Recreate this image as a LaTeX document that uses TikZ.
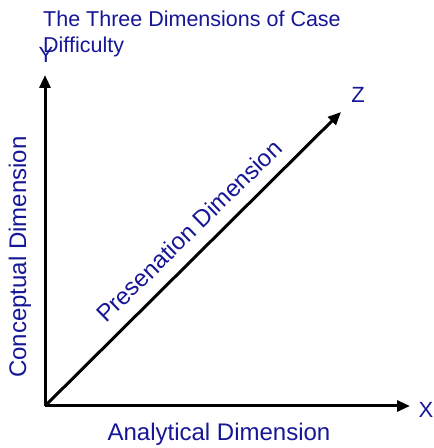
\documentclass[tikz,border=0pt]{standalone}
\usepackage{fontspec}
\setmainfont{Liberation Sans}
\usepackage{xcolor}
\usetikzlibrary{arrows.meta,positioning}
\definecolor{dimblue}{RGB}{22,22,150}

\begin{document}
\begin{tikzpicture}[x=1pt,y=1pt,
  axis/.style={line width=3pt,-{Triangle[length=13pt,width=11pt]}},
  lbl/.style={text=dimblue,font=\fontsize{24}{28}\selectfont,inner sep=0pt},
  letter/.style={lbl,font=\fontsize{22}{26}\selectfont}]
\useasboundingbox (0,0) rectangle (434,448);
\coordinate (o) at (45,42);
\coordinate (ytip) at (45,373);
\coordinate (xtip) at (410,42);
\coordinate (ztip) at (341,336);
\draw[axis] (o) -- (ytip);
\draw[axis] (o) -- (xtip);
\draw[axis] (o) -- (ztip);
\node[lbl, font=\fontsize{21.5}{26}\selectfont, anchor=north west, align=left] (title) at (43,437) {The Three Dimensions of Case\\Difficulty};
\node[letter] (ylab) at (46,393) {Y};
\node[letter] (xlab) at (426,38) {X};
\node[letter] (zlab) at (358,353) {Z};
\node[lbl] (alab) at (219,14) {Analytical Dimension};
\node[lbl, rotate=90] (clab) at (20,191) {Conceptual Dimension};
\node[lbl, rotate=44.3] (plab) at (189,217) {Presenation Dimension};
\end{tikzpicture}
\end{document}
